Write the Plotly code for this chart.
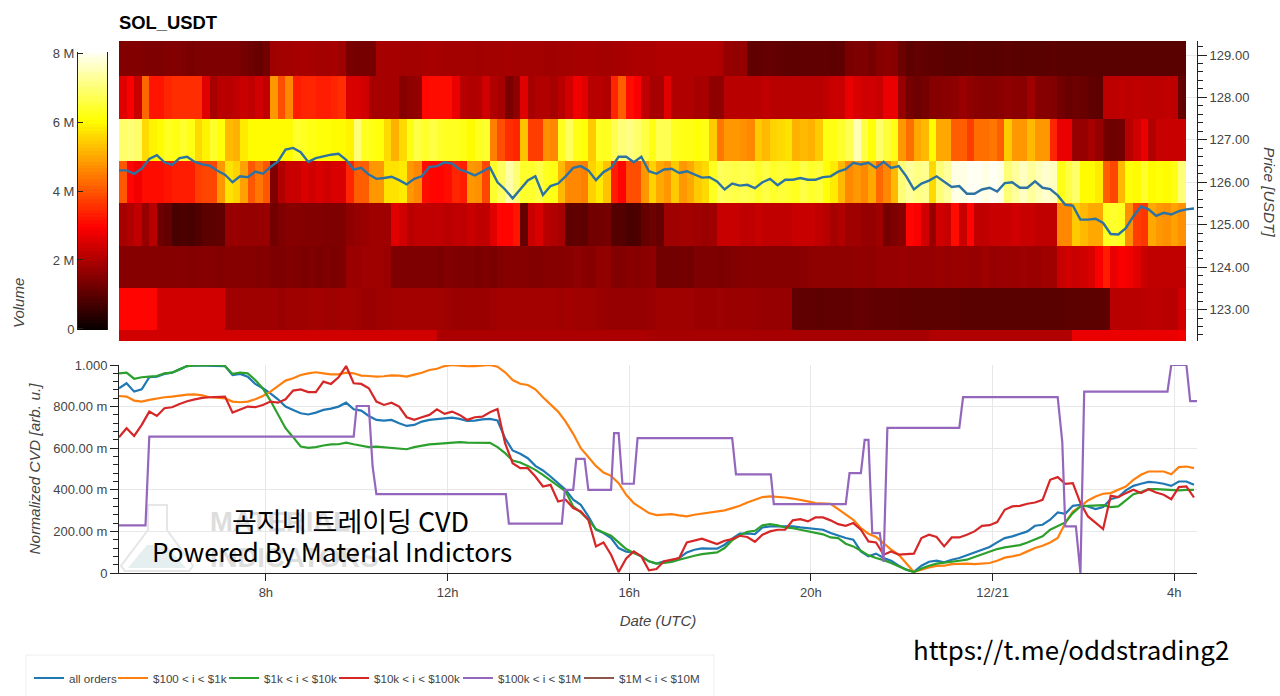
import pandas as pd
import plotly.graph_objects as go

W, H = 1280, 696

# Axes
start = pd.Timestamp('2024-12-20 04:46')
line_time = pd.date_range(start, periods=143, freq='10min')
heat_time = pd.date_range(start + pd.Timedelta(minutes=5), periods=141, freq='10min')
price_levels = [122, 123, 124, 125, 126, 127, 128, 129]
volume_levels = [i / 10 for i in range(0, 81)]

# Volume per price level (millions), one column per 10 minutes
vol_129 = [1.45,1.45,1.45,1.4,1.4,1.4,1.45,1.45,1.4,1.35,
           1.4,1.4,1.4,1.4,1.4,1.4,1.3,1.2,1.15,1.25,
           1.8,1.85,1.85,1.9,1.9,1.9,1.85,1.85,1.9,1.8,
           1.35,1.3,1.3,1.3,1.9,1.9,1.9,1.85,1.85,1.85,
           1.9,1.9,1.9,1.85,1.85,1.85,1.85,1.8,1.85,1.85,
           1.85,1.9,1.85,1.85,1.85,1.85,1.8,1.8,1.85,1.85,
           1.9,1.9,1.9,1.85,1.85,1.9,1.9,1.95,1.95,1.95,
           1.95,2,2,2,2,2,2,2,2,1.95,
           1.7,1.65,1.7,1.05,1.05,1.1,1.1,1.05,1,1,
           1.05,1.05,1.05,1.05,1,1.05,1.35,1.4,1.4,1.3,
           1.5,1.55,1.5,1.2,1,1.1,1.05,1,1,.95,
           .95,.95,1,.95,.95,.95,.95,1,.95,.95,
           .95,.95,.95,1,.95,.95,.95,.95,.95,.95,
           .95,.95,.95,.95,.95,.95,.95,.95,.95,.95,.95]
vol_128 = [2.6,2.9,2.3,4.2,3.2,3.2,3.4,3.5,3.5,3.5,
           3.5,2.6,1.9,2.1,2.1,2.2,2.3,2.2,2.4,2.2,
           4.8,3.9,4.6,3.3,3.4,3.4,3.3,3.3,3.4,3.5,
           2.5,2.5,2.4,1.9,1.9,1.9,1.9,1.5,1.6,1.65,
           3.05,3.1,3.1,3.1,2.7,2.1,2,2,2.4,2,
           1.9,1.35,1.6,2.6,1.9,2,2,1.9,2.1,2.4,
           2.8,2.6,2.1,2.1,2,3.4,4.1,3.1,2.9,2.2,
           1.9,1.9,2.6,2,2,2,1.9,1.9,1.6,1.6,
           2.1,2.1,2.1,2.1,2.1,2.2,2.1,2.1,2.1,2.1,
           2.1,2.1,2.1,2.2,2.3,2.3,2.7,2.5,2.4,2.4,
           2.3,2.7,2.7,1.7,1.3,1.2,1.3,1.5,1.5,1.55,
           1.6,1.75,1.6,1.55,1.5,1.5,1.55,1.6,1.55,1.55,
           1.8,1.5,1.5,1.45,1.25,1.15,1.2,1.15,1.05,1,
           2.15,2.15,2.2,2.15,2.2,2.15,2.15,2.15,2.2,2.15,1.1]
vol_127 = [6.9,7,6.9,5.6,5.9,6,6.3,6.2,6.4,6.2,
           5.6,5.9,6.4,6.1,5.2,5.1,5.8,6,6,6,
           6,6,6,6.4,6.3,6.2,6.1,6.1,6,6,
           5.9,7,6.3,6.2,6.1,5.6,5.1,5.6,6.2,6.6,
           6.4,6.6,6.4,6.3,6.3,6.2,6,6.3,6.4,4.5,
           3.9,3.5,3.4,5.3,3.7,3.7,4.7,4.6,6.3,6.8,
           6.2,6.1,5.4,6.3,6.3,6.7,7,7.1,6.9,6.6,
           6.2,6.7,6.7,6.3,6.2,6.2,6.1,6.2,5.4,4.4,
           4.8,4.8,4.7,4.6,5.4,5.2,5.5,5.6,5.7,5.1,
           5.2,5.1,5.4,6.2,6.2,6.4,6.7,7.5,6.6,6.1,
           6.9,6.5,6.2,4.8,4.3,5,5.2,6,5,5,
           4.1,4.1,3.7,4.3,4.3,4.4,4.1,5.4,4.8,4.8,
           5.2,4.8,4.8,3.4,2.7,2.7,1.7,1.7,1.9,1.7,
           1.25,1.2,1.25,2.1,2.4,2.7,2,2.3,2.3,2.3,2.3]
vol_126 = [4,3,2.8,3.1,3.1,3.1,3.2,3.3,3.3,3.3,
           3.7,3.8,3.8,4.8,5.7,5.5,4.9,4,4.4,4,
           1.4,2,2.3,2.3,2.5,2.4,2.5,2.4,2.5,2.5,
           3.4,4.1,4.1,4.8,4.8,5.7,5.7,5.8,4.8,4.6,
           3.1,3,3,3.1,3.4,3.3,4.8,4.7,3.8,6.4,
           6.8,7.4,7,6.4,6.4,6.6,6.3,6.2,5.2,4.6,
           4.6,4.5,5.5,5.8,5.3,3.3,3,3.9,3.9,4.8,
           5.5,5,4.8,5.4,4.8,5,5.4,5.6,6.3,6.8,
           6.7,6.6,6.7,6.6,6.4,6.6,6.4,6.5,6.4,6.3,
           6.6,6.4,6.5,6.1,5.8,5.2,4.6,4.8,4.6,5,
           4.2,4.6,5.2,7,7.3,7.1,7.2,5.6,7,7.3,
           7.9,7.9,8,8,7.9,8,7.9,7,7.3,7.6,
           7.3,7.5,7.7,7.6,6.2,6.6,6.9,6,6,5.8,
           4.1,3.8,5.2,6.1,6,6.4,6,6.1,6,6.2,7]
vol_125 = [1.9,2,2.2,1.7,2.1,1.2,1.1,.75,.8,.75,
           .85,1,1,1.05,1.7,1.75,1.7,1.7,1.7,1.75,
           1.25,1.4,1.5,1.5,1.45,1.45,1.45,1.4,1.4,1.4,
           1.6,1.7,1.75,1.8,1.8,1.8,2.6,2.4,2.1,2.2,
           2.2,2.2,2.2,2.1,2.2,2.2,2.3,2.2,2.2,2.6,
           3,3,3.2,1.1,2.3,2.5,2.1,2,1.9,1,
           1.05,1,1.25,1.25,1.3,.9,.9,.75,.8,1.1,
           1.2,1.1,1.8,1.8,1.85,1.85,1.8,1.75,1.8,2.3,
           2.3,2.3,2.2,2.2,2.3,2.2,2.2,2.2,2.2,2.3,
           2.3,2.3,2.2,2.1,1.9,2,1.8,1.8,1.7,1.7,
           1.8,1.3,1.4,1.5,3,2.9,2.4,1.7,2.4,2.3,
           3.1,2.3,3,2.2,2.2,2.3,2.3,2.3,2.4,2.3,
           2.3,2.2,2.2,2.2,4.6,4.6,5.4,5.2,5,5,
           6.3,6.4,6.3,4.7,3.7,3.6,5,4.8,4.7,4.9,4.7]
vol_124 = [1.5,1.5,1.5,1.5,1.5,1.5,1.5,1.5,1.5,1.45,
           1.5,1.5,1.5,1.45,1.5,1.5,1.5,1.5,1.45,1.5,
           1.4,1.4,1.45,1.4,1.35,1.4,1.35,1.4,1.35,1.4,
           1.75,1.75,1.8,1.8,1.8,1.75,1.4,1.4,1.4,1.4,
           1.4,1.4,1.35,1.45,1.4,1.4,1.4,1.35,1.4,1.35,
           1.45,1.5,1.5,1.5,1.45,1.45,1.5,1.5,1.5,1.55,
           1.6,1.55,1.5,1.65,1.65,1.45,1.45,1.55,1.5,1.55,
           1.6,1.25,1.25,1.25,1.3,1.25,1.4,1.4,1.4,1.35,
           1.4,1.45,1.5,1.5,1.5,1.5,1.5,1.5,1.5,1.5,
           1.55,1.6,1.6,1.6,1.6,1.6,1.6,1.65,1.65,1.6,
           1.7,1.7,1.7,1.75,1.7,1.7,1.7,1.7,1.75,1.7,
           1.75,1.75,1.7,1.7,1.8,1.7,1.75,1.75,1.75,1.8,
           1.75,1.75,1.8,1.8,2.3,2.4,2.3,2.4,2.5,2.9,
           3.3,2.7,2.9,2.8,2.6,2.3,2.2,2.2,2.2,2.2,2.2]
vol_123 = [3,3,3,3,3,2.4,2.4,2.4,2.4,2.4,
           2.4,2.4,2.4,2.4,1.8,1.8,1.8,1.8,1.8,1.8,
           1.8,1.75,1.8,1.8,1.8,1.85,1.85,1.8,1.8,1.85,
           1.85,1.8,1.75,1.75,1.8,1.8,1.85,1.85,1.85,1.85,
           1.85,1.85,1.85,1.8,1.75,1.75,1.75,1.75,1.75,1.8,
           1.85,1.85,1.85,1.85,1.85,1.85,1.85,1.85,1.8,1.85,
           1.8,1.8,1.8,1.75,1.7,1.7,1.7,1.7,1.7,1.7,
           1.75,1.8,1.8,1.8,1.8,1.8,1.75,1.75,1.75,1.8,
           1.75,1.75,1.75,1.75,1.7,1.7,1.7,1.7,1.7,1.05,
           1.05,1.05,1,1.05,1.05,1.05,1.05,1.1,1.1,1.05,
           1.05,1.05,1.05,1,1,1,1,1,1,1,
           1,.95,.95,.95,.95,.95,.95,.95,.95,.95,
           .95,.95,.95,.95,.95,1,1,1,1,1,
           1,2.1,2.1,2.1,2.1,2.15,2.15,2.15,2.1,2.1,2.4]
vol_122 = [2.4,2.4,2.4,2.4,2.4,2.4,2.4,2.4,2.4,2.4,
           2.4,2.4,2.4,2.4,2.4,2.4,2.4,2.4,2.4,2.4,
           2.4,2.4,2.4,2.4,2.4,2.4,2.4,2.4,2.4,2.4,
           2.4,2.4,2.4,2.4,2.4,2.4,2.4,2.4,2.4,2.4,
           2.4,2.4,1.95,1.95,1.95,1.95,1.95,1.95,1.95,1.95,
           1.95,1.95,1.95,1.95,1.95,1.95,1.95,1.95,1.95,1.95,
           1.95,1.95,1.95,1.95,1.95,1.95,1.95,1.95,1.95,1.95,
           1.9,1.9,1.9,1.9,1.9,1.9,1.9,1.9,1.9,1.9,
           1.9,1.9,1.9,1.9,1.9,1.9,1.9,1.9,1.9,1.9,
           1.9,1.9,1.9,1.9,1.9,1.9,1.9,1.9,1.9,1.9,
           1.9,1.9,1.9,1.9,1.9,1.9,1.9,2,2,2,
           2,2,2,2,2,2,2,2,2,2,
           2,2,2,2,2,2,2.7,2.7,2.7,2.7,
           2.7,2.7,2.7,2.7,2.7,2.7,2.7,2.7,2.7,2.7,2.8]

price = [126.28,126.28,126.20,126.32,126.55,126.64,126.47,126.41,126.57,126.60,
         126.48,126.42,126.39,126.27,126.18,126.00,126.14,126.12,126.25,126.20,
         126.36,126.49,126.77,126.81,126.71,126.48,126.57,126.61,126.65,126.67,
         126.53,126.30,126.34,126.18,126.08,126.10,126.13,126.05,125.95,126.08,
         126.14,126.36,126.38,126.47,126.44,126.30,126.24,126.16,126.26,126.35,
         126.00,125.83,125.62,125.84,126.04,126.14,125.70,125.91,125.97,126.14,
         126.34,126.38,126.28,126.05,126.24,126.34,126.60,126.60,126.47,126.60,
         126.26,126.20,126.30,126.32,126.22,126.26,126.18,126.11,126.12,126.02,
         125.83,125.97,125.92,125.94,125.86,126.00,126.08,125.93,126.06,126.06,
         126.10,126.06,126.06,126.12,126.14,126.25,126.31,126.46,126.42,126.46,
         126.34,126.48,126.34,126.38,126.14,125.83,125.97,126.04,126.14,126.02,
         125.89,125.91,125.73,125.73,125.83,125.87,125.78,125.98,126.00,125.87,
         125.87,126.02,125.87,125.84,125.69,125.47,125.45,125.12,125.12,125.14,
         125.04,124.78,124.77,124.92,125.20,125.43,125.36,125.21,125.28,125.24,
         125.32,125.36,125.38]

# Normalized CVD per order size
all_orders = [.888,.912,.872,.883,.941,.944,.957,.963,.979,.995,
              .998,.998,.998,.998,.995,.952,.957,.944,.909,.888,
              .864,.835,.80,.784,.768,.762,.771,.784,.79,.80,
              .819,.787,.781,.755,.736,.733,.736,.72,.707,.712,
              .728,.736,.739,.744,.747,.741,.731,.733,.739,.741,
              .733,.648,.589,.573,.552,.515,.493,.464,.432,.40,
              .352,.328,.272,.208,.192,.168,.12,.102,.099,.08,
              .056,.045,.056,.059,.072,.099,.112,.118,.117,.117,
              .136,.165,.189,.19,.187,.219,.224,.224,.224,.224,
              .219,.216,.211,.208,.192,.179,.168,.16,.104,.08,
              .093,.072,.059,.035,.016,.006,.035,.054,.059,.051,
              .064,.072,.085,.099,.112,.125,.147,.168,.176,.187,
              .20,.227,.232,.256,.291,.285,.323,.328,.32,.307,
              .317,.355,.365,.397,.419,.429,.438,.435,.429,.419,
              .44,.44,.424]
orders_100_1k = [.851,.848,.829,.824,.832,.84,.845,.848,.854,.858,
                 .859,.854,.845,.843,.84,.824,.821,.824,.835,.851,
                 .872,.899,.925,.936,.952,.96,.965,.96,.955,.955,
                 .963,.96,.949,.947,.944,.946,.95,.949,.944,.954,
                 .963,.976,.982,.995,1.0,.997,.994,.995,.997,1.0,
                 .992,.965,.928,.91,.904,.883,.845,.808,.776,.728,
                 .669,.60,.56,.515,.483,.467,.432,.376,.336,.312,
                 .288,.278,.28,.283,.277,.272,.28,.285,.291,.296,
                 .301,.312,.323,.339,.352,.365,.368,.366,.363,.358,
                 .352,.344,.336,.334,.333,.307,.28,.256,.216,.189,
                 .173,.144,.112,.088,.045,.005,.016,.027,.034,.035,
                 .043,.045,.045,.043,.045,.048,.059,.074,.08,.088,
                 .104,.12,.131,.147,.168,.24,.296,.32,.349,.368,
                 .381,.384,.40,.416,.448,.472,.488,.488,.488,.475,
                 .509,.512,.504]
orders_1k_10k = [.96,.963,.934,.941,.944,.947,.96,.963,.979,.995,
                 .998,.998,.998,1.0,.995,.957,.963,.96,.928,.888,
                 .829,.76,.696,.653,.608,.602,.605,.613,.618,.619,
                 .627,.619,.613,.605,.608,.605,.602,.597,.595,.605,
                 .613,.618,.621,.624,.627,.629,.627,.626,.627,.626,
                 .605,.576,.541,.531,.515,.496,.472,.445,.416,.392,
                 .32,.291,.256,.211,.195,.179,.147,.115,.096,.08,
                 .056,.045,.048,.053,.064,.075,.083,.091,.096,.099,
                 .12,.157,.181,.198,.203,.229,.235,.229,.219,.216,
                 .208,.20,.192,.186,.171,.168,.141,.128,.107,.085,
                 .072,.062,.048,.032,.016,.005,.022,.035,.045,.05,
                 .056,.059,.064,.077,.09,.101,.115,.123,.128,.134,
                 .147,.163,.176,.208,.224,.243,.288,.32,.323,.325,
                 .326,.317,.32,.349,.379,.389,.403,.403,.40,.397,
                 .397,.40,.40]
orders_10k_100k = [.653,.696,.659,.712,.776,.755,.792,.797,.813,.826,
                   .835,.842,.845,.845,.848,.771,.787,.80,.797,.808,
                   .824,.819,.835,.877,.883,.87,.87,.92,.909,.941,
                   .995,.912,.909,.888,.824,.808,.819,.80,.749,.736,
                   .749,.76,.787,.765,.776,.76,.736,.749,.752,.773,
                   .788,.624,.528,.504,.504,.464,.416,.424,.344,.352,
                   .312,.296,.256,.128,.147,.088,.005,.07,.104,.08,
                   .013,.019,.056,.064,.072,.147,.157,.165,.152,.139,
                   .155,.163,.179,.173,.15,.184,.20,.208,.208,.253,
                   .259,.248,.267,.267,.253,.235,.227,.24,.208,.152,
                   .147,.088,.104,.088,.091,.093,.168,.184,.173,.128,
                   .171,.171,.184,.20,.227,.23,.245,.304,.32,.323,
                   .333,.339,.352,.448,.461,.429,.432,.336,.272,.24,
                   .211,.371,.365,.384,.40,.384,.403,.387,.376,.355,
                   .413,.416,.363]

# $100k < i < $1M moves in steps, so it keeps its own time list
orders_100k_1m_time = ['2024-12-20 04:46','2024-12-20 05:21','2024-12-20 05:26','2024-12-20 09:56',
                       '2024-12-20 10:00','2024-12-20 10:16','2024-12-20 10:21','2024-12-20 10:26',
                       '2024-12-20 13:17','2024-12-20 13:21','2024-12-20 14:31','2024-12-20 14:35',
                       '2024-12-20 14:46','2024-12-20 14:50','2024-12-20 15:01','2024-12-20 15:06',
                       '2024-12-20 15:36','2024-12-20 15:40','2024-12-20 15:46','2024-12-20 15:51',
                       '2024-12-20 16:06','2024-12-20 16:11','2024-12-20 18:16','2024-12-20 18:21',
                       '2024-12-20 19:07','2024-12-20 19:11','2024-12-20 20:46','2024-12-20 20:51',
                       '2024-12-20 21:06','2024-12-20 21:11','2024-12-20 21:16','2024-12-20 21:21',
                       '2024-12-20 21:31','2024-12-20 21:36','2024-12-20 21:41','2024-12-20 23:16',
                       '2024-12-20 23:21','2024-12-21 01:26','2024-12-21 01:32','2024-12-21 01:36',
                       '2024-12-21 01:50','2024-12-21 01:56','2024-12-21 02:01','2024-12-21 03:51',
                       '2024-12-21 03:56','2024-12-21 04:16','2024-12-21 04:21','2024-12-21 04:30']
orders_100k_1m = [.229,.229,.656,.656,
                  .803,.803,.512,.379,
                  .379,.237,.237,.40,
                  .40,.549,.549,.40,
                  .40,.672,.672,.429,
                  .429,.648,.648,.474,
                  .474,.331,.331,.48,
                  .48,.64,.64,.192,
                  .192,.053,.698,.698,
                  .846,.846,.632,.224,
                  .224,0,.872,.872,
                  1.0,1.0,.826,.826]
orders_1m_10m = [None] * 143

tick_times = ['2024-12-20 08:00','2024-12-20 12:00','2024-12-20 16:00',
              '2024-12-20 20:00','2024-12-21 00:00','2024-12-21 04:00']
tick_labels = ['8h','12h','16h','20h','12/21','4h']
cvd_ticks = [0, 0.2, 0.4, 0.6, 0.8, 1.0]
cvd_labels = ['0','200.00 m','400.00 m','600.00 m','800.00 m','1.000']


def px(x, y):
    return '%.4f %.4f' % (x / W, 1 - y / H)


TEXT = '#444444'
GRID = '#e8e8e8'
FONT = 'Liberation Sans'
x_range = ['2024-12-20 04:46', '2024-12-21 04:30']

fig = go.Figure()

# Heatmap and price line
fig.add_trace(go.Heatmap(x=heat_time, y=price_levels,
                         z=[vol_122, vol_123, vol_124, vol_125, vol_126, vol_127, vol_128, vol_129],
                         coloraxis='coloraxis', xaxis='x', yaxis='y', hoverinfo='skip'))
fig.add_trace(go.Scatter(x=line_time, y=price, mode='lines', line=dict(color='#2c72a3', width=2.4),
                         xaxis='x', yaxis='y', showlegend=False))

# Colour bar drawn on its own small axes so its labels can sit on the left
fig.add_trace(go.Heatmap(x=[0], y=volume_levels, z=[[v] for v in volume_levels],
                         coloraxis='coloraxis', xaxis='x3', yaxis='y3', hoverinfo='skip'))

# CVD lines, each with its own legend so the entries can sit close together
series = [('all orders', line_time, all_orders, '#1f77b4', 'legend'),
          ('$100 < i < $1k', line_time, orders_100_1k, '#ff7f0e', 'legend2'),
          ('$1k < i < $10k', line_time, orders_1k_10k, '#2ca02c', 'legend3'),
          ('$10k < i < $100k', line_time, orders_10k_100k, '#d62728', 'legend4'),
          ('$100k < i < $1M', orders_100k_1m_time, orders_100k_1m, '#9467bd', 'legend5'),
          ('$1M < i < $10M', line_time, orders_1m_10m, '#8c564b', 'legend6')]
for name, times, values, color, legend in series:
    fig.add_trace(go.Scatter(x=times, y=values, name=name, mode='lines', legend=legend,
                             line=dict(color=color, width=2.2), xaxis='x2', yaxis='y2'))


def legend_at(x):
    return dict(orientation='h', x=x / W, y=1 - 678 / H, xanchor='left', yanchor='middle',
                bgcolor='rgba(0,0,0,0)', font=dict(size=11.6, color=TEXT))


def note(text, x, y, size, family=FONT, color='black', xanchor='center', **kw):
    return dict(text=text, x=x / W, y=1 - y / H, xref='paper', yref='paper', xanchor=xanchor, yanchor='middle',
                showarrow=False, font=dict(family=family, size=size, color=color, **kw))


fig.update_layout(
    width=W, height=H,
    margin=dict(l=0, r=0, t=0, b=0, autoexpand=False),
    paper_bgcolor='white', plot_bgcolor='white',
    font=dict(family=FONT, size=13, color=TEXT),
    title=dict(text='<b>SOL_USDT</b>', x=119 / W, xanchor='left', y=1 - 23 / H, yanchor='middle',
               font=dict(family=FONT, size=18.4, color='black')),
    coloraxis=dict(colorscale=[[0, '#0a0000'], [0.365, '#ff0000'], [0.746, '#ffff00'], [1, '#ffffff']],
                   cmin=0, cmax=8.1, showscale=False),
    xaxis=dict(domain=[119 / W, 1197 / W], range=x_range, anchor='y', visible=False),
    yaxis=dict(domain=[1 - 341 / H, 1 - 41 / H], range=[122.258, 129.33], side='right', anchor='x',
               tickmode='array', tickvals=price_levels[1:], ticktext=['%.2f' % p for p in price_levels[1:]],
               ticks='outside', ticklen=9, tickcolor='#222', showline=True, linecolor='#222',
               gridcolor=GRID, zeroline=False,
               minor=dict(dtick=0.2, ticks='outside', ticklen=5, tickcolor='#222', showgrid=False)),
    xaxis2=dict(domain=[119 / W, 1197 / W], range=x_range, anchor='y2',
                tickmode='array', tickvals=tick_times, ticktext=tick_labels,
                ticks='outside', ticklen=7, tickcolor='#222', showline=True, linecolor='#222',
                gridcolor=GRID, zeroline=False,
                title=dict(text='Date (UTC)', font=dict(size=15, style='italic'), standoff=16)),
    yaxis2=dict(domain=[1 - 573 / H, 1 - 365 / H], range=[0, 1], anchor='x2',
                tickmode='array', tickvals=cvd_ticks, ticktext=cvd_labels,
                ticks='outside', ticklen=8, tickcolor='#222', showline=True, linecolor='#222',
                gridcolor=GRID, zeroline=False,
                minor=dict(dtick=0.04, ticks='outside', ticklen=5, tickcolor='#222', showgrid=False),
                title=dict(text='Normalized CVD [arb. u.]', font=dict(size=15.4, style='italic'), standoff=8)),
    xaxis3=dict(domain=[78 / W, 107 / W], anchor='y3', visible=False),
    yaxis3=dict(domain=[1 - 330 / H, 1 - 52 / H], range=[-0.03, 8.03], anchor='x3',
                tickmode='array', tickvals=[0, 2, 4, 6, 8], ticktext=['0', '2 M', '4 M', '6 M', '8 M'],
                ticks='inside', ticklen=5, tickcolor='#222', showline=True, linecolor='#222', mirror=True,
                showgrid=False, zeroline=False),
    legend=legend_at(29), legend2=legend_at(113), legend3=legend_at(224),
    legend4=legend_at(334), legend5=legend_at(458), legend6=legend_at(579),
    annotations=[
        dict(note('Volume', 19, 303, 15, color=TEXT, style='italic'), textangle=-90),
        dict(note('Price [USDT]', 1270, 192, 15.4, color=TEXT, style='italic'), textangle=90),
        note('<b>MATERIAL</b>', 208, 521, 27.5, color='#dddddd', xanchor='left'),
        note('<b>INDICATORS</b>', 208, 557, 27.5, color='#dddddd', xanchor='left'),
        note('곰지네 트레이딩 CVD', 350, 520, 27, family='Noto Sans CJK KR'),
        note('Powered By Material Indictors', 332, 550, 26, family='Noto Sans CJK KR'),
        note('https://t.me/oddstrading2', 1071, 648, 25.9, family='Noto Sans CJK KR'),
    ],
    shapes=[
        # Legend frame
        dict(type='rect', xref='paper', yref='paper', x0=26 / W, x1=714 / W, y0=-0.01, y1=1 - 655 / H,
             line=dict(color='#eeeeee', width=1), layer='below'),
        # Faint flask logo behind the lower chart
        dict(type='path', xref='paper', yref='paper', layer='below', line=dict(color='#e6e6e6', width=2),
             path='M %s L %s L %s L %s L %s L %s L %s L %s Z' % (
                 px(148, 505), px(167, 505), px(167, 530), px(193, 566),
                 px(189, 571), px(125, 571), px(121, 566), px(148, 530))),
        dict(type='path', xref='paper', yref='paper', layer='below', fillcolor='#e6efef', line=dict(width=0),
             path='M %s L %s L %s L %s Z' % (px(147, 545), px(166, 545), px(186, 568), px(128, 568))),
    ],
)

fig.write_html('out.html', config=dict(displayModeBar=False),
               post_script="document.body.style.margin='0';")
